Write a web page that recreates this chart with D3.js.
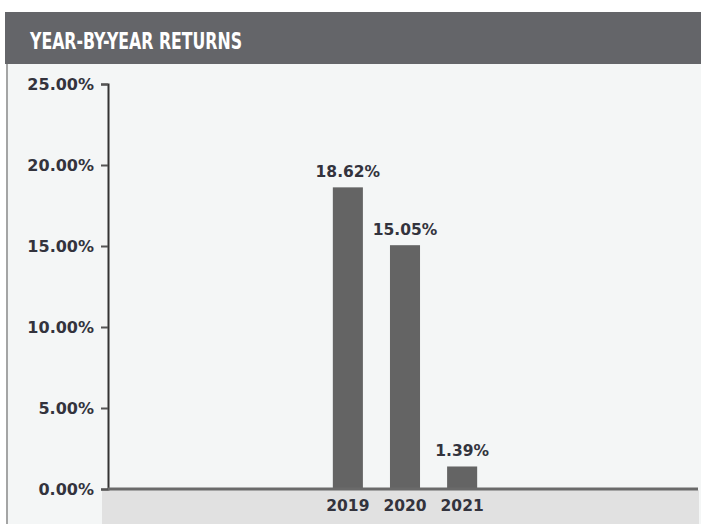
<!DOCTYPE html>
<html><head><meta charset="utf-8">
<script src="https://cdn.jsdelivr.net/npm/d3@7"></script>
<style>html,body{margin:0;padding:0;background:#fff;}svg{display:block;}</style>
</head><body>
<script>
const title = "YEAR-BY-YEAR RETURNS";
const years = ["2019", "2020", "2021"];
const returns = [18.62, 15.05, 1.39];
const yTicks = [0, 5, 10, 15, 20, 25];

const W = 701, H = 524;
const svg = d3.select("body").append("svg").attr("width", W).attr("height", H);

// panel
svg.append("rect").attr("x", 6).attr("y", 64).attr("width", W - 6).attr("height", H - 64).attr("fill", "#f4f6f6");
svg.append("line").attr("x1", 7).attr("x2", 7).attr("y1", 62).attr("y2", H).attr("stroke", "#8a8a8a").attr("stroke-width", 1.5);
// header
svg.append("rect").attr("x", 5).attr("y", 12).attr("width", W - 5).attr("height", 52).attr("fill", "#646569");
svg.append("text").attr("x", 30).attr("y", 49).attr("fill", "#fff")
  .attr("font-family", "'Liberation Sans Narrow', 'DejaVu Sans Condensed', sans-serif")
  .attr("font-weight", "bold").attr("font-size", 23)
  .attr("textLength", 212).attr("lengthAdjust", "spacingAndGlyphs")
  .text(title);

const x0 = 108, x1 = 698, yTop = 84, yBase = 489;
const y = d3.scaleLinear().domain([0, 25]).range([yBase, yTop]);
const x = d3.scaleBand().domain(years).range([x0 + 2, x1 + 2]).paddingInner(0.474).paddingOuter(3.9);

// band below baseline
svg.append("rect").attr("x", 102).attr("y", yBase + 1).attr("width", W - 2 - 102).attr("height", H - yBase).attr("fill", "#e1e1e1");

// bars
svg.append("g").selectAll("rect").data(years).join("rect")
  .attr("x", d => x(d)).attr("width", x.bandwidth())
  .attr("y", (d, i) => y(returns[i])).attr("height", (d, i) => y(0) - y(returns[i]))
  .attr("fill", "#646464");

const fontFam = "'DejaVu Sans', sans-serif";
const txtCol = "#33333d";

// value labels
svg.append("g").selectAll("text").data(years).join("text")
  .attr("x", d => x(d) + x.bandwidth() / 2).attr("y", (d, i) => y(returns[i]) - 10)
  .attr("text-anchor", "middle").attr("fill", txtCol)
  .attr("font-family", fontFam).attr("font-weight", "bold").attr("font-size", 15.5)
  .text((d, i) => returns[i].toFixed(2) + "%");

// y axis
const yAxis = d3.axisLeft(y).tickValues(yTicks).tickFormat(d => d.toFixed(2) + "%").tickSize(7).tickPadding(7);
const gy = svg.append("g").attr("transform", `translate(${x0},0)`).call(yAxis);
gy.select(".domain").attr("stroke", "#333").attr("stroke-width", 2);
gy.selectAll(".tick line").attr("stroke", "#555").attr("stroke-width", 2);
gy.selectAll(".tick text").attr("fill", txtCol).attr("font-family", fontFam)
  .attr("font-weight", "bold").attr("font-size", 16);

// x axis
const xAxis = d3.axisBottom(x).tickSize(0).tickPadding(11);
const gx = svg.append("g").attr("transform", `translate(0,${yBase})`).call(xAxis);
gx.select(".domain").attr("stroke", "#6a6a6a").attr("stroke-width", 3).attr("d", `M${x0},0H${x1}`);
gx.selectAll(".tick text").attr("fill", txtCol).attr("font-family", fontFam)
  .attr("font-weight", "bold").attr("font-size", 15.5);
</script>
</body></html>
